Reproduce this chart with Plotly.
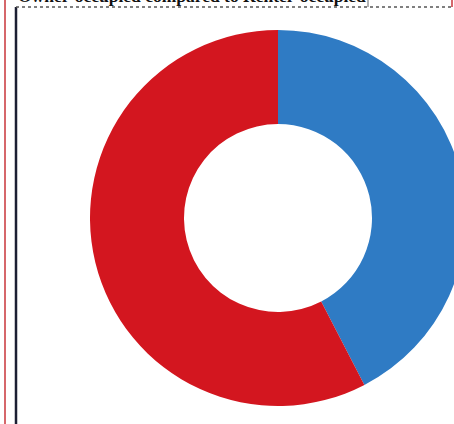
import plotly.graph_objects as go

labels = ["Renter-occupied", "Owner-occupied"]
values = [42.4, 57.6]
colors = ["#2f7bc4", "#d3161f"]
title_text = "Owner-occupied compared to Renter-occupied"

W, H = 500, 424

def px(x):
    return x / W

def py(y):
    return 1 - y / H

fig = go.Figure(go.Pie(
    labels=labels, values=values, hole=0.5, sort=False, direction="clockwise",
    rotation=0, marker=dict(colors=colors, line=dict(width=0)),
    textinfo="none", hoverinfo="label+percent", showlegend=False,
    domain=dict(x=[px(90), px(466)], y=[py(406), py(30)]),
))

shapes = [
    dict(type="line", xref="paper", yref="paper", x0=px(5), x1=px(5), y0=0, y1=1,
         line=dict(color="#c8343a", width=1.5)),
    dict(type="line", xref="paper", yref="paper", x0=px(16), x1=px(16), y0=0, y1=py(7),
         line=dict(color="#1c1f33", width=2.5)),
    dict(type="line", xref="paper", yref="paper", x0=px(16), x1=px(452), y0=py(7), y1=py(7),
         line=dict(color="#555555", width=1.5, dash="dot")),
    dict(type="line", xref="paper", yref="paper", x0=px(368), x1=px(368), y0=py(7), y1=1,
         line=dict(color="#666666", width=1)),
    dict(type="line", xref="paper", yref="paper", x0=px(452), x1=px(452), y0=py(7), y1=1,
         line=dict(color="#c8343a", width=1.5)),
]

fig.update_layout(
    width=W, height=H, margin=dict(l=0, r=0, t=0, b=0),
    paper_bgcolor="white", plot_bgcolor="white",
    shapes=shapes,
    annotations=[dict(text="<b>" + title_text + "</b>", xref="paper", yref="paper",
                      x=px(16), y=py(8), xanchor="left", yanchor="bottom",
                      showarrow=False, font=dict(family="Liberation Serif", size=17.5, color="#111111"))],
)

fig.write_html("out.html", post_script="document.body.style.overflow='hidden';document.documentElement.style.overflow='hidden';")
